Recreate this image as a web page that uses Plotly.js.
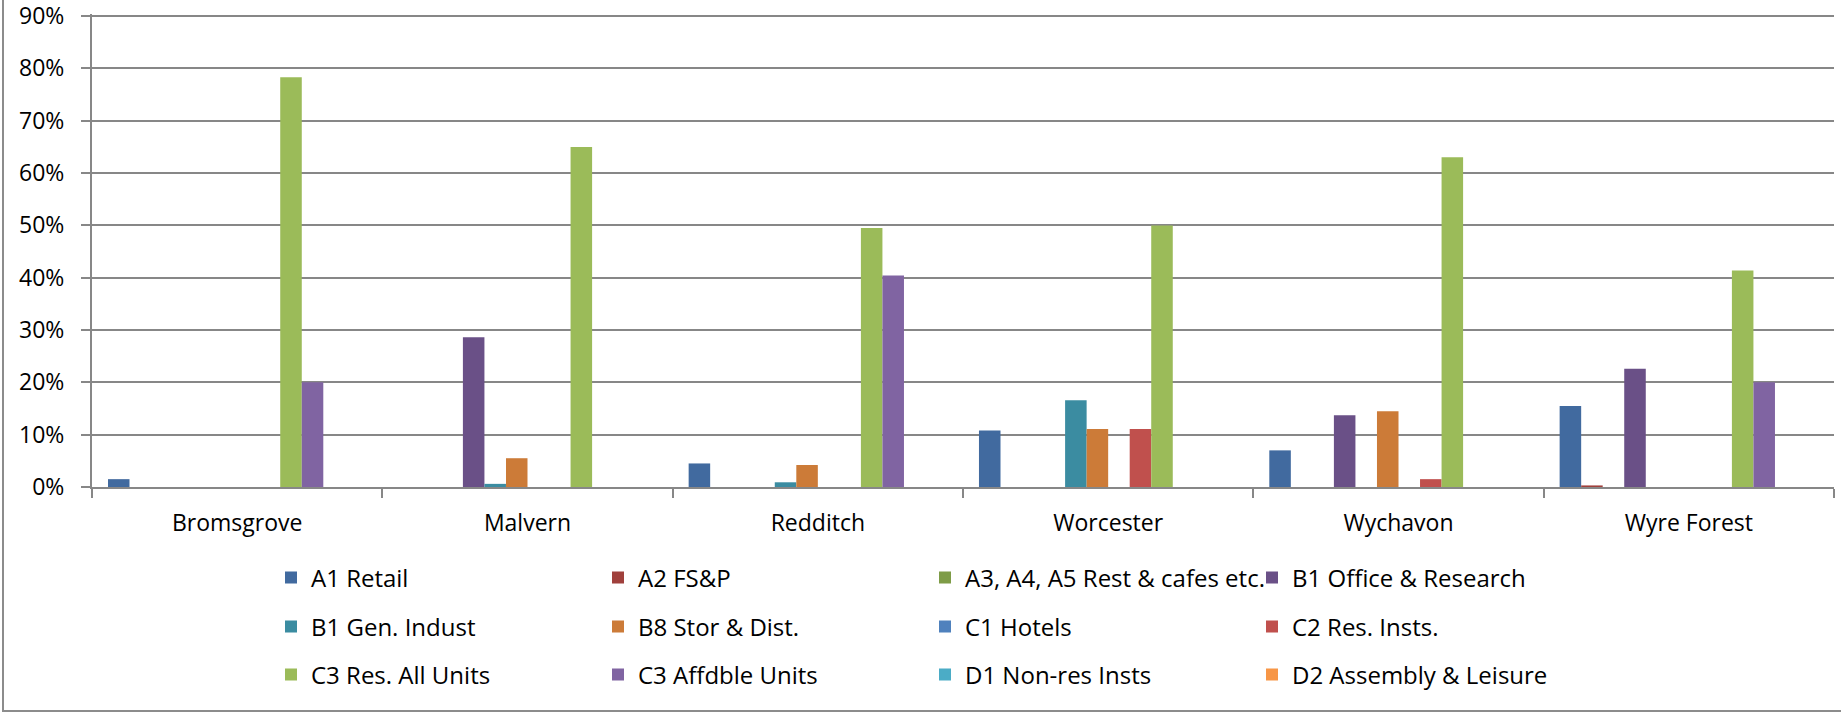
<!DOCTYPE html>
<html>
<head>
<meta charset="utf-8">
<script src="https://cdn.plot.ly/plotly-3.0.1.min.js"></script>
<style>
  html, body { margin: 0; padding: 0; background: #ffffff; overflow: hidden; }
  #frame { position: absolute; left: 2px; top: -6px; width: 1860px; height: 718px;
           border: 2px solid #8c8c8c; box-sizing: border-box; }
  #chart { position: absolute; left: 0; top: 0; width: 1841px; height: 716px; }
</style>
</head>
<body>
<div id="frame"></div>
<div id="chart"></div>
<script>
// ---- data (percent of units) ----
const districts = ["Bromsgrove", "Malvern", "Redditch", "Worcester", "Wychavon", "Wyre Forest"];

const seriesNames = [
  "A1 Retail", "A2 FS&P", "A3, A4, A5 Rest & cafes etc.", "B1 Office & Research",
  "B1 Gen. Indust", "B8 Stor & Dist.", "C1 Hotels", "C2 Res. Insts.",
  "C3 Res. All Units", "C3 Affdble Units", "D1 Non-res Insts", "D2 Assembly & Leisure"
];

const a1Retail     = [1.5, 0, 4.5, 10.8, 7.0, 15.5];
const a2FSP        = [0, 0, 0, 0, 0, 0.3];
const a3a4a5Rest   = [0, 0, 0, 0, 0, 0];
const b1Office     = [0, 28.6, 0, 0, 13.7, 22.6];
const b1GenIndust  = [0, 0.6, 0.9, 16.6, 0, 0];
const b8StorDist   = [0, 5.5, 4.2, 11.1, 14.5, 0];
const c1Hotels     = [0, 0, 0, 0, 0, 0];
const c2ResInsts   = [0, 0, 0, 11.1, 1.5, 0];
const c3ResAll     = [78.3, 65.0, 49.5, 50.0, 63.0, 41.4];
const c3Affordable = [20.0, 0, 40.4, 0, 0, 20.0];
const d1NonRes     = [0, 0, 0, 0, 0, 0];
const d2Assembly   = [0, 0, 0, 0, 0, 0];

const yTickVals  = [0, 10, 20, 30, 40, 50, 60, 70, 80, 90];
const yTickText  = ["0%", "10%", "20%", "30%", "40%", "50%", "60%", "70%", "80%", "90%"];

// ---- styling ----
const seriesValues = [a1Retail, a2FSP, a3a4a5Rest, b1Office, b1GenIndust, b8StorDist,
                      c1Hotels, c2ResInsts, c3ResAll, c3Affordable, d1NonRes, d2Assembly];
const colors = ["#416A9F", "#A0403C", "#7E9C47", "#6A5087", "#3B8CA1", "#CC7B38",
                "#4F81BD", "#C0504D", "#9BBB59", "#8064A2", "#4BACC6", "#F79646"];
const legendIds = ["legend", "legend2", "legend3"];

const traces = seriesNames.map((name, i) => ({
  type: "bar",
  name: name,
  x: districts,
  y: seriesValues[i],
  marker: { color: colors[i], line: { width: 0 } },
  legend: legendIds[Math.floor(i / 4)],
  hoverinfo: "x+y+name"
}));

const W = 1841, H = 716;
const M = { l: 92, r: 7, t: 14, b: 229 };
const plotW = W - M.l - M.r, plotH = H - M.t - M.b;
const FONT = "Open Sans, Noto Sans, sans-serif";
const GRID = "#878787";

function legendAt(rowCenterPx) {
  return {
    orientation: "h",
    x: (271 - M.l) / plotW,
    xanchor: "left",
    y: (H - M.b - rowCenterPx) / plotH,
    yanchor: "middle",
    entrywidth: 282,
    entrywidthmode: "pixels",
    bgcolor: "rgba(0,0,0,0)",
    borderwidth: 0,
    font: { family: FONT, size: 24, color: "#000000" },
    traceorder: "normal"
  };
}

const layout = {
  width: W, height: H,
  margin: M,
  paper_bgcolor: "rgba(0,0,0,0)",
  plot_bgcolor: "#ffffff",
  font: { family: FONT, size: 23, color: "#000000" },
  barmode: "group",
  bargap: 0.11,
  bargroupgap: 0,
  showlegend: true,
  legend: legendAt(578),
  legend2: legendAt(627),
  legend3: legendAt(675),
  xaxis: {
    type: "category",
    showline: true, linecolor: GRID, linewidth: 2,
    ticks: "outside", tickson: "boundaries", ticklen: 9, tickwidth: 2, tickcolor: GRID,
    showgrid: false, automargin: false,
    ticklabelstandoff: 14,
    tickfont: { family: FONT, size: 23, color: "#000000" }
  },
  yaxis: {
    range: [0, 90.4],
    tickmode: "array",
    tickvals: yTickVals,
    ticktext: yTickText,
    ticklabeloverflow: "allow",
    showline: true, linecolor: GRID, linewidth: 2,
    ticks: "outside", ticklen: 9, tickwidth: 2, tickcolor: GRID,
    showgrid: true, gridcolor: GRID, gridwidth: 2,
    zeroline: false, automargin: false,
    ticklabelstandoff: 12,
    tickfont: { family: FONT, size: 23, color: "#000000" }
  }
};

Plotly.newPlot("chart", traces, layout, { staticPlot: true, displayModeBar: false });
</script>
</body>
</html>
